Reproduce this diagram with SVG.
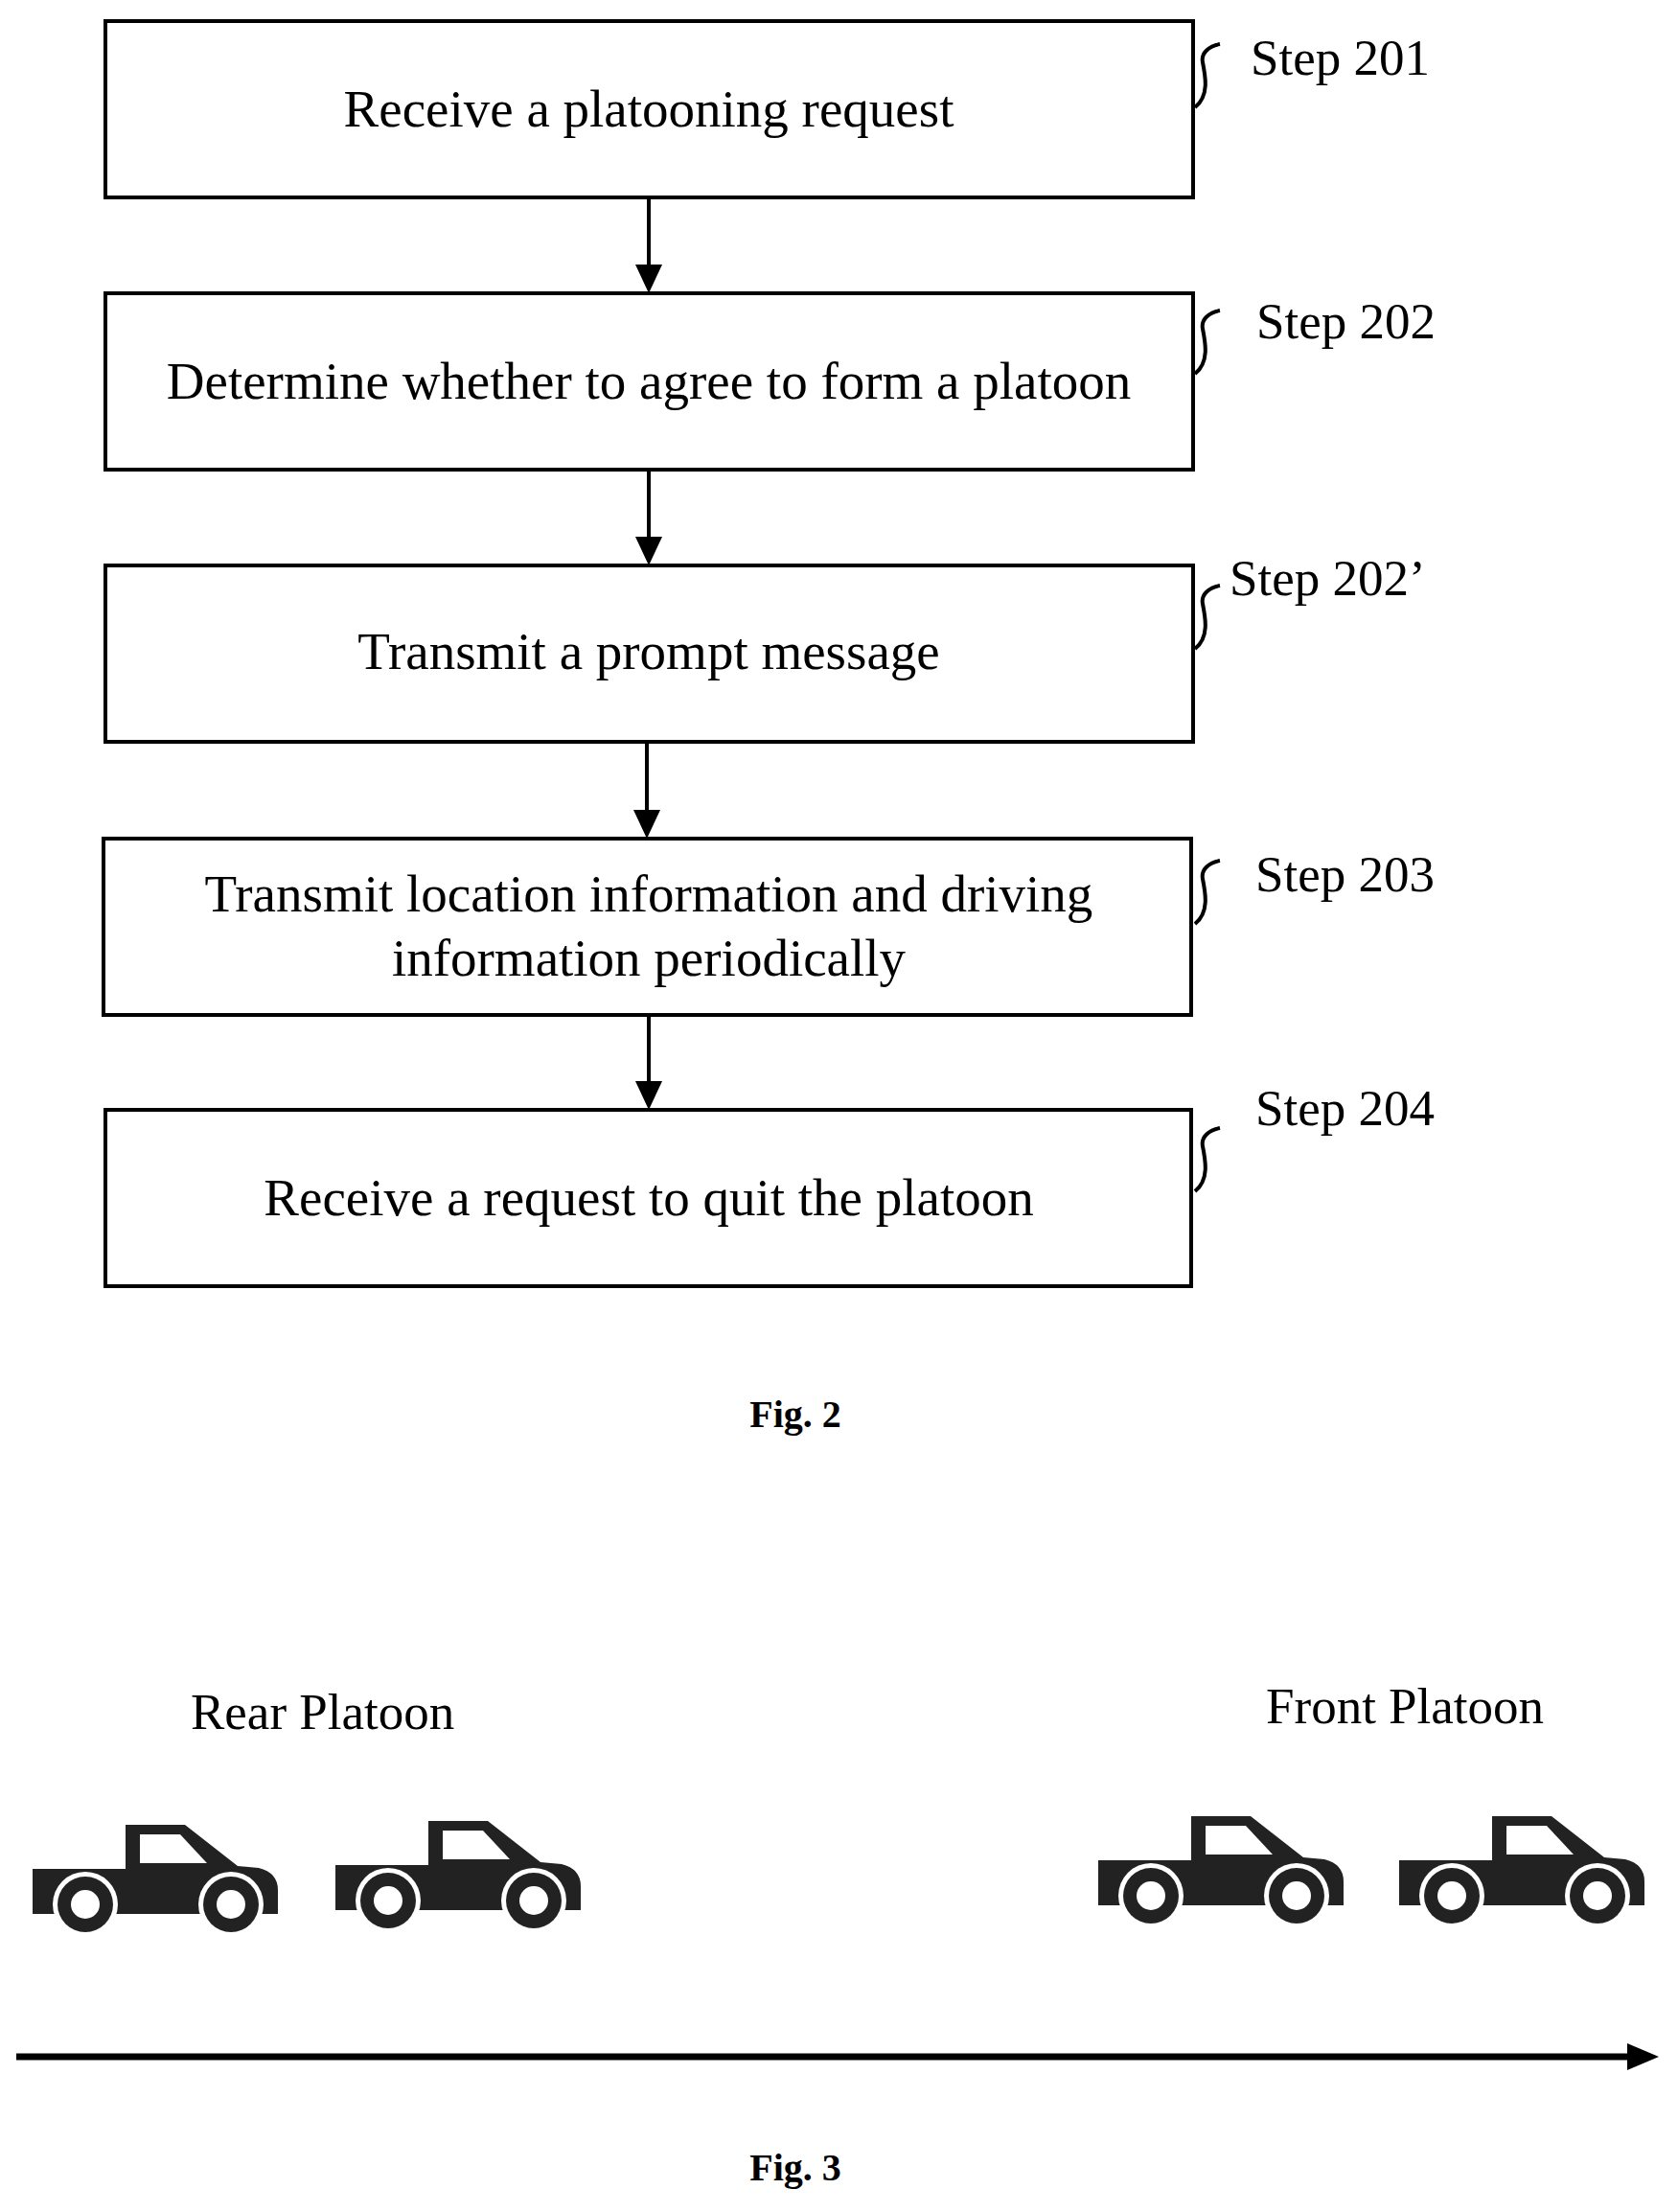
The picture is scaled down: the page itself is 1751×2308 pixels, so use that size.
<svg xmlns="http://www.w3.org/2000/svg" width="1751" height="2308" viewBox="0 0 1751 2308">
<style>
.box{fill:#fff;stroke:#000;stroke-width:4}
.t{font-family:"Liberation Serif",serif;font-size:55px;text-anchor:middle;fill:#000}
.s{font-family:"Liberation Serif",serif;font-size:53px;fill:#000}
.sq{fill:none;stroke:#000;stroke-width:4}
.fig{font-family:"Liberation Serif",serif;font-size:40px;font-weight:bold;text-anchor:middle}
.c{stroke:#000;stroke-width:4;fill:none}
</style>
<defs>
<g id="car">
<path d="M0,48 L97,48 L97,2 L159,2 L214,45 L236,47 Q256,52 256,70 L256,95 L0,95 Z" fill="#222"/>
<path d="M112,12 L154,12 L182,42 L112,42 Z" fill="#fff"/>
<circle cx="55" cy="85" r="34" fill="#fff"/><circle cx="207" cy="85" r="34" fill="#fff"/>
<circle cx="55" cy="85" r="29" fill="#222"/><circle cx="207" cy="85" r="29" fill="#222"/>
<circle cx="55" cy="85" r="15" fill="#fff"/><circle cx="207" cy="85" r="15" fill="#fff"/>
</g>
</defs>
<g id="connectors">
<line class="c" x1="677" y1="208" x2="677" y2="280"/><path d="M663,276 L691,276 L677,306Z"/>
<line class="c" x1="677" y1="492" x2="677" y2="564"/><path d="M663,560 L691,560 L677,590Z"/>
<line class="c" x1="675" y1="776" x2="675" y2="849"/><path d="M661,845 L689,845 L675,875Z"/>
<line class="c" x1="677" y1="1061" x2="677" y2="1132"/><path d="M663,1128 L691,1128 L677,1158Z"/>
<line x1="17" y1="2146" x2="1700" y2="2146" stroke="#000" stroke-width="7"/>
<path d="M1698,2132 L1731,2146 L1698,2160Z"/>
</g>
<g id="n201"><rect class="box" x="110" y="22" width="1135" height="184"/><text class="t" x="677" y="132">Receive a platooning request</text>
<path class="sq" d="M1247,112 C1262,100 1258,80 1255,65 C1253,55 1262,48 1273,46"/><text class="s" x="1305" y="78">Step 201</text></g>
<g id="n202"><rect class="box" x="110" y="306" width="1135" height="184"/><text class="t" x="677" y="416">Determine whether to agree to form a platoon</text>
<path class="sq" d="M1247,390 C1262,378 1258,358 1255,343 C1253,333 1262,326 1273,324"/><text class="s" x="1311" y="353">Step 202</text></g>
<g id="n202b"><rect class="box" x="110" y="590" width="1135" height="184"/><text class="t" x="677" y="698">Transmit a prompt message</text>
<path class="sq" d="M1247,677 C1262,665 1258,645 1255,630 C1253,620 1262,613 1273,611"/><text class="s" x="1283" y="621">Step 202’</text></g>
<g id="n203"><rect class="box" x="108" y="875" width="1135" height="184"/><text class="t" x="677" y="951">Transmit location information and driving</text><text class="t" x="677" y="1018">information periodically</text>
<path class="sq" d="M1247,964 C1262,952 1258,932 1255,917 C1253,907 1262,900 1273,898"/><text class="s" x="1310" y="930">Step 203</text></g>
<g id="n204"><rect class="box" x="110" y="1158" width="1133" height="184"/><text class="t" x="677" y="1268">Receive a request to quit the platoon</text>
<path class="sq" d="M1247,1243 C1262,1231 1258,1211 1255,1196 C1253,1186 1262,1179 1273,1177"/><text class="s" x="1310" y="1174">Step 204</text></g>
<text class="fig" x="830" y="1489">Fig. 2</text>
<text class="s" x="199" y="1804">Rear Platoon</text>
<text class="s" x="1321" y="1798">Front Platoon</text>
<use href="#car" x="34" y="1902"/>
<use href="#car" x="350" y="1898"/>
<use href="#car" x="1146" y="1893"/>
<use href="#car" x="1460" y="1893"/>
<text class="fig" x="830" y="2275">Fig. 3</text>
</svg>
